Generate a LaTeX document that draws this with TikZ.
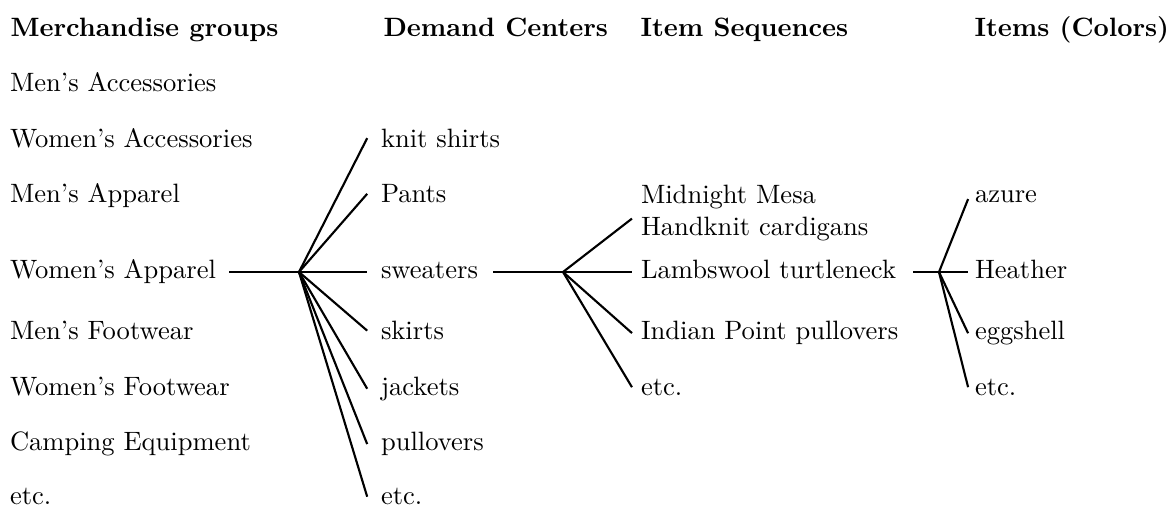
\documentclass[tikz,border=0pt]{standalone}
\usetikzlibrary{calc}
\begin{document}
\begin{tikzpicture}[x=0.3766pt,y=-0.3766pt,
  lbl/.style={inner ysep=0pt, inner xsep=0pt, anchor=mid west},
  head/.style={inner sep=0pt, anchor=mid west, font=\bfseries},
  gap/.style={outer xsep=#1, xshift=-#1},
  branch/.style={line width=0.8pt}]
\useasboundingbox (0,0) rectangle (1174,506);

% column headings
\node[head] (hmg) at (10,30.5)  {Merchandise groups};
\node[head] (hdc) at (383,30.5) {Demand Centers};
\node[head] (his) at (640,30.5) {Item Sequences};
\node[head] (hic) at (974,30.5) {Items (Colors)};

% merchandise groups
\node[lbl,gap=4.9pt] (mg1) at (10,86)    {Men's Accessories};
\node[lbl,gap=4.9pt] (mg2) at (10,141.5) {Women's Accessories};
\node[lbl,gap=4.9pt] (mg3) at (10,197)   {Men's Apparel};
\node[lbl,gap=4.9pt] (mg4) at (10,273)   {Women's Apparel};
\node[lbl,gap=4.9pt] (mg5) at (10,334)   {Men's Footwear};
\node[lbl,gap=4.9pt] (mg6) at (10,389.5) {Women's Footwear};
\node[lbl,gap=4.9pt] (mg7) at (10,445)   {Camping Equipment};
\node[lbl,gap=4.9pt] (mg8) at (10,499)   {etc.};

% demand centers
\node[lbl,gap=5.2pt] (dc1) at (381,141.5) {knit shirts};
\node[lbl,gap=5.2pt] (dc2) at (381,197)   {Pants};
\node[lbl,gap=5.2pt] (dc3) at (381,273)   {sweaters};
\node[lbl,gap=5.2pt] (dc4) at (381,334)   {skirts};
\node[lbl,gap=5.2pt] (dc5) at (381,389.5) {jackets};
\node[lbl,gap=5.2pt] (dc6) at (381,445)   {pullovers};
\node[lbl,gap=5.2pt] (dc7) at (381,499)   {etc.};

% item sequences
\node[lbl,gap=3.4pt,align=left,anchor=north west] (is1) at (641,184.6)
  {Midnight Mesa\\Handknit cardigans};
\node[lbl,gap=3.4pt] (is2) at (641,273)   {Lambswool turtleneck};
\node[lbl,gap=3.4pt] (is3) at (641,334)   {Indian Point pullovers};
\node[lbl,gap=3.4pt] (is4) at (641,389.5) {etc.};

% items (colors)
\node[lbl,gap=2.6pt] (ic1) at (975,197)   {azure};
\node[lbl,gap=2.6pt] (ic2) at (975,273)   {Heather};
\node[lbl,gap=2.6pt] (ic3) at (975,334)   {eggshell};
\node[lbl,gap=2.6pt] (ic4) at (975,389.5) {etc.};

% branching points
\coordinate (fanA) at (299,272);
\coordinate (fanB) at (563,272);
\coordinate (fanC) at (939,272);

% merchandise group -> demand centers
\draw[branch] (mg4.east |- fanA) -- (fanA) -- (dc3.west |- fanA);
\foreach \t in {dc1,dc2,dc4,dc5,dc6,dc7}
  \draw[branch] (fanA) -- (\t.west);

% demand center -> item sequences
\draw[branch, shorten <=0.6pt] (dc3.east |- fanB) -- (fanB) -- (is2.west |- fanB);
\draw[branch] (fanB) -- ([yshift=-2.1pt]is1.west);
\foreach \t in {is3,is4}
  \draw[branch] (fanB) -- (\t.west);

% item sequence -> items (colors)
\draw[branch, shorten <=3pt] (is2.east |- fanC) -- (fanC) -- (ic2.west |- fanC);
\draw[branch] (fanC) -- ([yshift=-0.8pt]ic1.west);
\foreach \t in {ic3,ic4}
  \draw[branch] (fanC) -- (\t.west);
\end{tikzpicture}
\end{document}
